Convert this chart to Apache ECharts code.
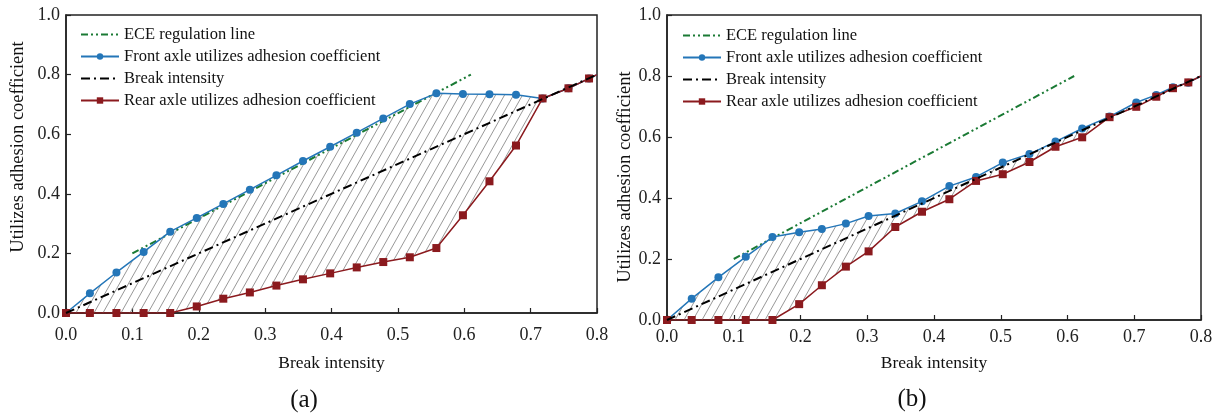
<!DOCTYPE html>
<html>
<head>
<meta charset="utf-8">
<script src="https://cdn.jsdelivr.net/npm/echarts@6/dist/echarts.min.js"></script>
<style>
  html, body { margin: 0; padding: 0; background: #fff; }
  #chart { width: 1218px; height: 413px; }
</style>
</head>
<body>
<div id="chart"></div>
<script>
// (a) sample points
const xsA = [0, 0.036, 0.076, 0.117, 0.157, 0.197, 0.237, 0.277, 0.317, 0.357, 0.398, 0.438, 0.478, 0.518, 0.558, 0.598, 0.638, 0.678, 0.718, 0.757, 0.788, 0.8]
const frontA = [0, 0.066, 0.136, 0.205, 0.273, 0.319, 0.366, 0.414, 0.462, 0.51, 0.558, 0.605, 0.653, 0.701, 0.737, 0.735, 0.734, 0.732, 0.72, 0.754, 0.787, 0.8]
const rearA = [0, 0, 0, 0, 0, 0.022, 0.048, 0.069, 0.092, 0.113, 0.133, 0.153, 0.171, 0.187, 0.218, 0.328, 0.442, 0.562, 0.72, 0.754, 0.787, 0.8]

// (b) sample points
const xsB = [0, 0.037, 0.077, 0.118, 0.158, 0.198, 0.232, 0.268, 0.302, 0.342, 0.382, 0.423, 0.463, 0.503, 0.543, 0.582, 0.622, 0.663, 0.703, 0.733, 0.758, 0.781, 0.8]
const frontB = [0, 0.07, 0.14, 0.207, 0.272, 0.288, 0.298, 0.316, 0.341, 0.349, 0.389, 0.439, 0.469, 0.516, 0.544, 0.585, 0.628, 0.667, 0.713, 0.738, 0.763, 0.778, 0.8]
const rearB = [0, 0, 0, 0, 0, 0.052, 0.114, 0.175, 0.225, 0.305, 0.355, 0.396, 0.456, 0.478, 0.518, 0.568, 0.599, 0.665, 0.699, 0.732, 0.76, 0.779, 0.8]

// ECE regulation line and brake intensity line end points
const eceLine = [[0.1, 0.2], [0.61, 0.8]]
const breakLine = [[0, 0], [0.8, 0.8]]

const xTicks = [0, 0.8, 0.1]
const yTicks = [0, 1.0, 0.2]

const FONT = '"Liberation Serif", "Times New Roman", serif'
const C_ECE = '#1a7a34'
const C_FRONT = '#2476b8'
const C_BREAK = '#000'
const C_REAR = '#8b1a1e'

// diagonal hatch tile
function hatchPattern() {
  const c = document.createElement('canvas')
  c.width = 9
  c.height = 16
  const g = c.getContext('2d')
  g.strokeStyle = '#8c8c8c'
  g.lineWidth = 0.9
  ;[-9, 0, 9].forEach(o => {
    g.beginPath()
    g.moveTo(o, 16)
    g.lineTo(o + 9, 0)
    g.stroke()
  })
  return { image: c, repeat: 'repeat' }
}
const hatch = hatchPattern()

function pts(xs, ys) {
  // last sample only continues the line to the frame, no marker
  return ys.map((v, i) => i === ys.length - 1 ? { value: [xs[i], v], symbol: 'none' } : [xs[i], v])
}

function buildSeries(idx, xs, front, rear) {
  return [
    {
      type: 'custom',
      xAxisIndex: idx,
      yAxisIndex: idx,
      clip: true,
      silent: true,
      z: 1,
      data: [[0, 0]],
      renderItem(params, api) {
        const top = front.map((v, i) => api.coord([xs[i], v]))
        const bottom = rear.map((v, i) => api.coord([xs[i], v])).reverse()
        return {
          type: 'polygon',
          shape: { points: top.concat(bottom) },
          style: { fill: hatch, stroke: null }
        }
      }
    },
    {
      name: 'ECE regulation line',
      type: 'line',
      xAxisIndex: idx,
      yAxisIndex: idx,
      symbol: 'none',
      z: 2,
      lineStyle: { color: C_ECE, width: 2, type: [7, 3, 2, 3, 2, 3] },
      itemStyle: { color: C_ECE },
      data: eceLine
    },
    {
      name: 'Front axle utilizes adhesion coefficient',
      type: 'line',
      xAxisIndex: idx,
      yAxisIndex: idx,
      symbol: 'circle',
      symbolSize: 8,
      z: 3,
      lineStyle: { color: C_FRONT, width: 1.5 },
      itemStyle: { color: C_FRONT },
      data: pts(xs, front)
    },
    {
      name: 'Rear axle utilizes adhesion coefficient',
      type: 'line',
      xAxisIndex: idx,
      yAxisIndex: idx,
      symbol: 'rect',
      symbolSize: 8,
      z: 4,
      lineStyle: { color: C_REAR, width: 1.5 },
      itemStyle: { color: C_REAR },
      data: pts(xs, rear)
    },
    {
      name: 'Break intensity',
      type: 'line',
      xAxisIndex: idx,
      yAxisIndex: idx,
      symbol: 'none',
      z: 5,
      lineStyle: { color: C_BREAK, width: 2, type: [9, 4, 2, 4] },
      itemStyle: { color: C_BREAK },
      data: breakLine
    }
  ]
}

function xAxis(idx, labelMargin, nameGap) {
  return {
    type: 'value',
    gridIndex: idx,
    min: xTicks[0],
    max: xTicks[1],
    interval: xTicks[2],
    name: 'Break intensity',
    nameLocation: 'middle',
    nameGap: nameGap,
    nameTextStyle: { fontFamily: FONT, fontSize: 17.5, color: '#111' },
    axisLine: { onZero: false, lineStyle: { color: '#222', width: 1.5 } },
    axisTick: { inside: true, length: 5, lineStyle: { color: '#222', width: 1.2 } },
    axisLabel: { margin: labelMargin, fontFamily: FONT, fontSize: 18, color: '#222', formatter: v => v.toFixed(1) },
    splitLine: { show: false }
  }
}

function yAxis(idx) {
  return {
    type: 'value',
    gridIndex: idx,
    min: yTicks[0],
    max: yTicks[1],
    interval: yTicks[2],
    axisLine: { onZero: false, lineStyle: { color: '#222', width: 1.5 } },
    axisTick: { inside: true, length: 5, lineStyle: { color: '#222', width: 1.2 } },
    axisLabel: { margin: 6, fontFamily: FONT, fontSize: 18, color: '#222', formatter: v => v.toFixed(1) },
    splitLine: { show: false }
  }
}

// plain line entries get an invisible symbol in the legend
const noMark = { opacity: 0 }

function legend(left, top) {
  return {
    left: left,
    top: top,
    orient: 'vertical',
    itemWidth: 38,
    itemHeight: 8,
    itemGap: 5,
    padding: 0,
    textStyle: { fontFamily: FONT, fontSize: 16.5, color: '#111' },
    data: [
      { name: 'ECE regulation line', itemStyle: noMark },
      'Front axle utilizes adhesion coefficient',
      { name: 'Break intensity', itemStyle: noMark },
      'Rear axle utilizes adhesion coefficient'
    ]
  }
}

const chart = echarts.init(document.getElementById('chart'))
chart.setOption({
  animation: false,
  backgroundColor: '#fff',
  grid: [
    { left: 66, top: 15, width: 531, height: 298, show: true, borderColor: '#222', borderWidth: 1.5, backgroundColor: 'transparent' },
    { left: 667, top: 15, width: 534, height: 305, show: true, borderColor: '#222', borderWidth: 1.5, backgroundColor: 'transparent' }
  ],
  xAxis: [xAxis(0, 13, 41), xAxis(1, 8, 34)],
  yAxis: [yAxis(0), yAxis(1)],
  legend: [legend(80, 26), legend(682, 27)],
  series: buildSeries(0, xsA, frontA, rearA).concat(buildSeries(1, xsB, frontB, rearB)),
  graphic: [
    { type: 'text', x: 18, y: 147, rotation: Math.PI / 2, style: { text: 'Utilizes adhesion coefficient', font: '18.5px ' + FONT, fill: '#111', align: 'center', verticalAlign: 'middle' } },
    { type: 'text', x: 625, y: 177, rotation: Math.PI / 2, style: { text: 'Utilizes adhesion coefficient', font: '18.5px ' + FONT, fill: '#111', align: 'center', verticalAlign: 'middle' } },
    { type: 'text', x: 304, y: 400, style: { text: '(a)', font: '25px ' + FONT, fill: '#111', align: 'center', verticalAlign: 'middle' } },
    { type: 'text', x: 912, y: 399, style: { text: '(b)', font: '25px ' + FONT, fill: '#111', align: 'center', verticalAlign: 'middle' } }
  ]
})
</script>
</body>
</html>
